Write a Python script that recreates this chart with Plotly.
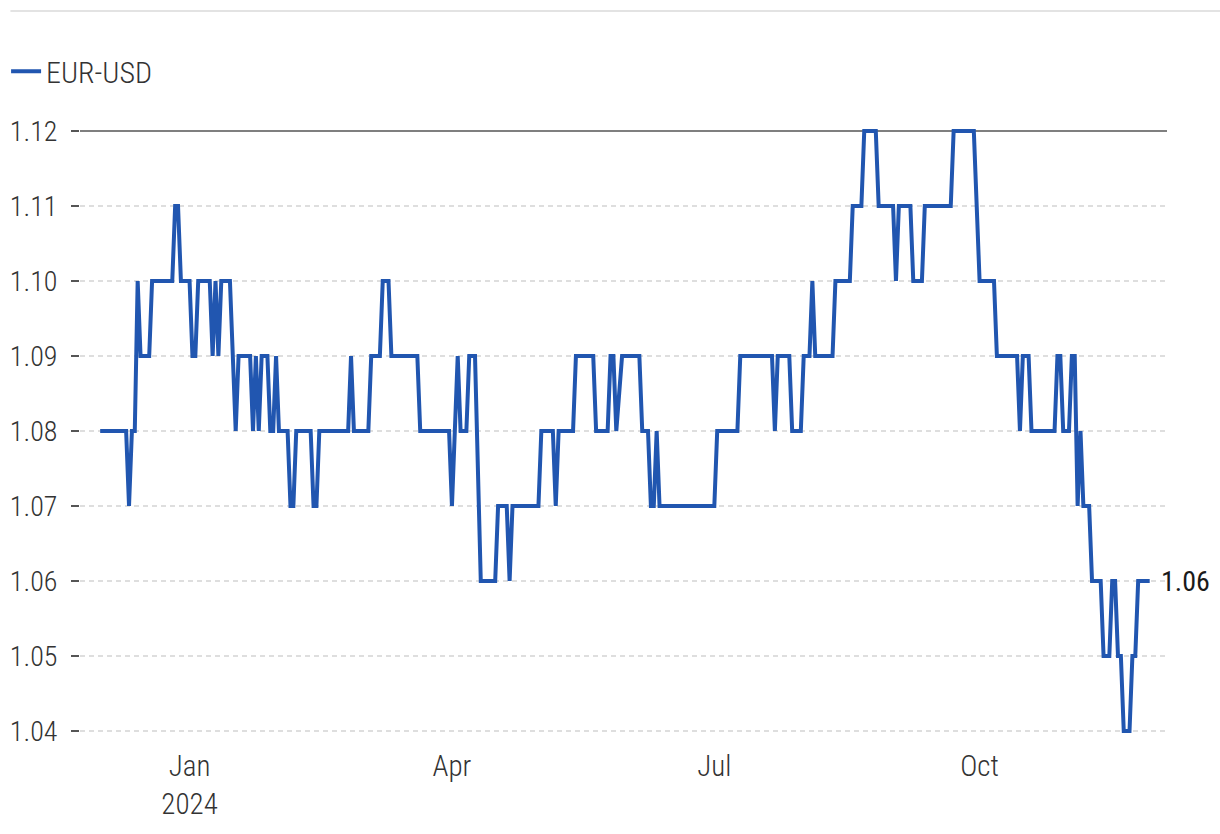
import plotly.graph_objects as go

# EUR-USD (rounded to 2 decimals), vertices of the line
dates = [
    "2023-12-01", "2023-12-10", "2023-12-11", "2023-12-12", "2023-12-13", "2023-12-14",
    "2023-12-15", "2023-12-18", "2023-12-19", "2023-12-26", "2023-12-27", "2023-12-28",
    "2023-12-29", "2024-01-01", "2024-01-02", "2024-01-03", "2024-01-04", "2024-01-08",
    "2024-01-09", "2024-01-10", "2024-01-11", "2024-01-12", "2024-01-15", "2024-01-17",
    "2024-01-18", "2024-01-22", "2024-01-23", "2024-01-24", "2024-01-25", "2024-01-26",
    "2024-01-28", "2024-01-29", "2024-01-30", "2024-01-31", "2024-02-01", "2024-02-04",
    "2024-02-05", "2024-02-06", "2024-02-07", "2024-02-12", "2024-02-13", "2024-02-14",
    "2024-02-15", "2024-02-25", "2024-02-26", "2024-02-27", "2024-03-03", "2024-03-04",
    "2024-03-07", "2024-03-08", "2024-03-10", "2024-03-11", "2024-03-20", "2024-03-21",
    "2024-03-31", "2024-04-01", "2024-04-02", "2024-04-03", "2024-04-04", "2024-04-06",
    "2024-04-07", "2024-04-09", "2024-04-11", "2024-04-16", "2024-04-17", "2024-04-20",
    "2024-04-21", "2024-04-22", "2024-05-01", "2024-05-02", "2024-05-06", "2024-05-07",
    "2024-05-08", "2024-05-13", "2024-05-14", "2024-05-20", "2024-05-21", "2024-05-25",
    "2024-05-26", "2024-05-27", "2024-05-28", "2024-05-30", "2024-06-05", "2024-06-06",
    "2024-06-08", "2024-06-09", "2024-06-10", "2024-06-11", "2024-06-12", "2024-07-01",
    "2024-07-02", "2024-07-09", "2024-07-10", "2024-07-21", "2024-07-22", "2024-07-23",
    "2024-07-27", "2024-07-28", "2024-07-31", "2024-08-01", "2024-08-03", "2024-08-04",
    "2024-08-05", "2024-08-11", "2024-08-12", "2024-08-17", "2024-08-18", "2024-08-21",
    "2024-08-22", "2024-08-26", "2024-08-27", "2024-09-01", "2024-09-02", "2024-09-03",
    "2024-09-07", "2024-09-08", "2024-09-11", "2024-09-12", "2024-09-21", "2024-09-22",
    "2024-09-29", "2024-10-01", "2024-10-06", "2024-10-07", "2024-10-14", "2024-10-15",
    "2024-10-16", "2024-10-18", "2024-10-19", "2024-10-27", "2024-10-28", "2024-10-29",
    "2024-10-30", "2024-11-01", "2024-11-02", "2024-11-03", "2024-11-04", "2024-11-05",
    "2024-11-06", "2024-11-08", "2024-11-09", "2024-11-12", "2024-11-13", "2024-11-15",
    "2024-11-16", "2024-11-17", "2024-11-18", "2024-11-19", "2024-11-20", "2024-11-22",
    "2024-11-23", "2024-11-24", "2024-11-25", "2024-11-29",
]
eur_usd = [
    1.08, 1.08, 1.07, 1.08, 1.08, 1.10,
    1.09, 1.09, 1.10, 1.10, 1.11, 1.11,
    1.10, 1.10, 1.09, 1.09, 1.10, 1.10,
    1.09, 1.10, 1.09, 1.10, 1.10, 1.08,
    1.09, 1.09, 1.08, 1.09, 1.08, 1.09,
    1.09, 1.08, 1.08, 1.09, 1.08, 1.08,
    1.07, 1.07, 1.08, 1.08, 1.07, 1.07,
    1.08, 1.08, 1.09, 1.08, 1.08, 1.09,
    1.09, 1.10, 1.10, 1.09, 1.09, 1.08,
    1.08, 1.07, 1.08, 1.09, 1.08, 1.08,
    1.09, 1.09, 1.06, 1.06, 1.07, 1.07,
    1.06, 1.07, 1.07, 1.08, 1.08, 1.07,
    1.08, 1.08, 1.09, 1.09, 1.08, 1.08,
    1.09, 1.09, 1.08, 1.09, 1.09, 1.08,
    1.08, 1.07, 1.07, 1.08, 1.07, 1.07,
    1.08, 1.08, 1.09, 1.09, 1.08, 1.09,
    1.09, 1.08, 1.08, 1.09, 1.09, 1.10,
    1.09, 1.09, 1.10, 1.10, 1.11, 1.11,
    1.12, 1.12, 1.11, 1.11, 1.10, 1.11,
    1.11, 1.10, 1.10, 1.11, 1.11, 1.12,
    1.12, 1.10, 1.10, 1.09, 1.09, 1.08,
    1.09, 1.09, 1.08, 1.08, 1.09, 1.09,
    1.08, 1.08, 1.09, 1.09, 1.07, 1.08,
    1.07, 1.07, 1.06, 1.06, 1.05, 1.05,
    1.06, 1.06, 1.05, 1.05, 1.04, 1.04,
    1.05, 1.05, 1.06, 1.06,
]

y_ticks = [1.04, 1.05, 1.06, 1.07, 1.08, 1.09, 1.10, 1.11, 1.12]
x_tickvals = ["2024-01-01", "2024-04-01", "2024-07-01", "2024-10-01"]
x_ticktext = ["Jan<br>2024", "Apr", "Jul", "Oct"]
x_range = ["2023-11-24", "2024-12-05"]
y_range = [1.038, 1.122]

FONT = "Liberation Sans Narrow, Arial Narrow, Roboto Condensed, Roboto, sans-serif"
BLUE = "#2156b0"

fig = go.Figure()
fig.add_trace(go.Scatter(
    x=dates, y=eur_usd, mode="lines", name="EUR-USD",
    line=dict(color=BLUE, width=4),
))

fig.add_annotation(
    x=dates[-1], y=eur_usd[-1], text=f"{eur_usd[-1]:.2f}",
    showarrow=False, xanchor="left", yanchor="middle", xshift=9,
    font=dict(family=FONT, size=28, color="#1a1a1a"),
)

shapes = []
# dashed light grid lines for all ticks except the top one
for v in y_ticks[:-1]:
    shapes.append(dict(type="line", xref="paper", x0=0, x1=1, yref="y", y0=v, y1=v,
                       layer="below", line=dict(color="#dedede", width=2, dash="5px,4px")))
# solid top reference line
shapes.append(dict(type="line", xref="paper", x0=0, x1=1, yref="y",
                   y0=y_ticks[-1], y1=y_ticks[-1], layer="below",
                   line=dict(color="#555555", width=1.5)))
# thin light rule across the top of the figure
shapes.append(dict(type="line", xref="paper", x0=-0.064, x1=1.05, yref="paper",
                   y0=1.1667, y1=1.1667, line=dict(color="#e3e3e3", width=2)))

fig.update_layout(
    width=1220, height=834,
    margin=dict(l=80, r=53, t=116, b=88, autoexpand=False),
    paper_bgcolor="white", plot_bgcolor="white",
    font=dict(family=FONT, size=28, color="#333333"),
    showlegend=True,
    shapes=shapes,
    legend=dict(x=-0.068, xanchor="left", y=1.071, yanchor="middle",
                font=dict(family=FONT, size=30, color="#333333", weight=300),
                bgcolor="rgba(0,0,0,0)", itemwidth=30),
    xaxis=dict(
        type="date", range=x_range, automargin=False,
        tickvals=x_tickvals, ticktext=x_ticktext,
        showgrid=False, zeroline=False, showline=False, ticks="",
        tickfont=dict(family=FONT, size=29, color="#333333", weight=300),
    ),
    yaxis=dict(
        range=y_range, tickvals=y_ticks, automargin=False,
        ticktext=[f"{v:.2f}" for v in y_ticks],
        showgrid=False, zeroline=False, showline=False,
        ticks="outside", ticklen=8, tickcolor="#555555", tickwidth=1.5,
        ticklabelstandoff=8,
        tickfont=dict(family=FONT, size=28, color="#333333", weight=300),
    ),
)

fig.write_html("out.html", config={"displayModeBar": False},
               post_script="document.body.style.margin='0';document.body.style.overflow='hidden';")
